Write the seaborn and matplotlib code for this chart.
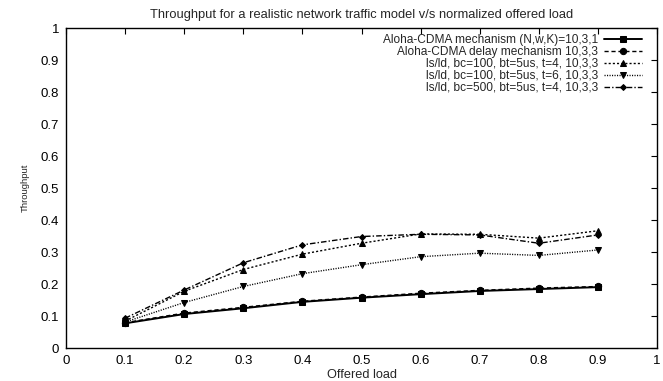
import matplotlib
matplotlib.use("Agg")
import matplotlib.pyplot as plt
import seaborn as sns
import pandas as pd

offered_load = [0.1, 0.2, 0.3, 0.4, 0.5, 0.6, 0.7, 0.8, 0.9]
aloha_cdma = [0.078, 0.107, 0.125, 0.145, 0.158, 0.169, 0.179, 0.185, 0.191]
aloha_delay = [0.080, 0.110, 0.128, 0.147, 0.160, 0.172, 0.181, 0.188, 0.193]
lsld_t4 = [0.085, 0.178, 0.246, 0.294, 0.328, 0.357, 0.356, 0.344, 0.367]
lsld_t6 = [0.082, 0.143, 0.193, 0.233, 0.261, 0.286, 0.297, 0.290, 0.307]
lsld_bc500 = [0.094, 0.182, 0.267, 0.323, 0.349, 0.356, 0.354, 0.328, 0.354]

labels = [
    "Aloha-CDMA mechanism (N,w,K)=10,3,1",
    "Aloha-CDMA delay mechanism 10,3,3",
    "ls/ld, bc=100, bt=5us, t=4, 10,3,3",
    "ls/ld, bc=100, bt=5us, t=6, 10,3,3",
    "ls/ld, bc=500, bt=5us, t=4, 10,3,3",
]
series = [aloha_cdma, aloha_delay, lsld_t4, lsld_t6, lsld_bc500]
x_ticks = [0, 0.1, 0.2, 0.3, 0.4, 0.5, 0.6, 0.7, 0.8, 0.9, 1]
x_tick_labels = ["0", "0.1", "0.2", "0.3", "0.4", "0.5", "0.6", "0.7", "0.8", "0.9", "1"]
y_ticks = [0, 0.1, 0.2, 0.3, 0.4, 0.5, 0.6, 0.7, 0.8, 0.9, 1]
y_tick_labels = ["0", "0.1", "0.2", "0.3", "0.4", "0.5", "0.6", "0.7", "0.8", "0.9", "1"]

sns.set_theme(style="white")
plt.rcParams["font.family"] = ["Liberation Sans", "DejaVu Sans"]

styles = [
    dict(linestyle="-", marker="s", markersize=5, linewidth=1.4),
    dict(linestyle=(0, (3, 2)), marker="o", markersize=4.5, linewidth=1.0),
    dict(linestyle=(0, (1.5, 1.5)), marker="^", markersize=4, linewidth=1.0),
    dict(linestyle=(0, (0.8, 1.0)), marker="v", markersize=4, linewidth=1.0),
    dict(linestyle=(0, (4, 1.5, 1, 1.5)), marker="D", markersize=3, linewidth=1.0),
]

fig = plt.figure(figsize=(6.63, 3.81), dpi=100)
ax = fig.add_axes([0.0995, 0.0858, 0.8915, 0.8407])

for lab, vals, st in zip(labels, series, styles):
    df = pd.DataFrame({"x": offered_load, "y": vals})
    sns.lineplot(data=df, x="x", y="y", ax=ax, color="black", label=lab,
                 markeredgecolor="black", markerfacecolor="black", **st)

ax.set_xlim(0, 1)
ax.set_ylim(0, 1)
ax.set_xticks(x_ticks)
ax.set_xticklabels(x_tick_labels)
ax.set_yticks(y_ticks)
ax.set_yticklabels(y_tick_labels)
ax.tick_params(direction="in", top=True, right=True, length=4, width=0.8,
               labelsize=9.5, colors="black", pad=5)
for sp in ax.spines.values():
    sp.set_color("black")
    sp.set_linewidth(1.0)
ax.set_xlabel("Offered load", fontsize=9.2, labelpad=1)
ax.set_ylabel("Throughput", fontsize=6.8, labelpad=8)
ax.set_title("Throughput for a realistic network traffic model v/s normalized offered load",
             fontsize=9.3, pad=7)

leg = ax.legend(loc="upper right", frameon=False, markerfirst=False, fontsize=8.6,
                handlelength=3.2, handletextpad=0.5, labelspacing=0.0,
                borderaxespad=0.1, bbox_to_anchor=(0.985, 1.0))
try:
    vp = leg._legend_box._children[-1]._children[0]
    vp.align = "right"
except Exception:
    pass

fig.savefig("out.png", dpi=100)
